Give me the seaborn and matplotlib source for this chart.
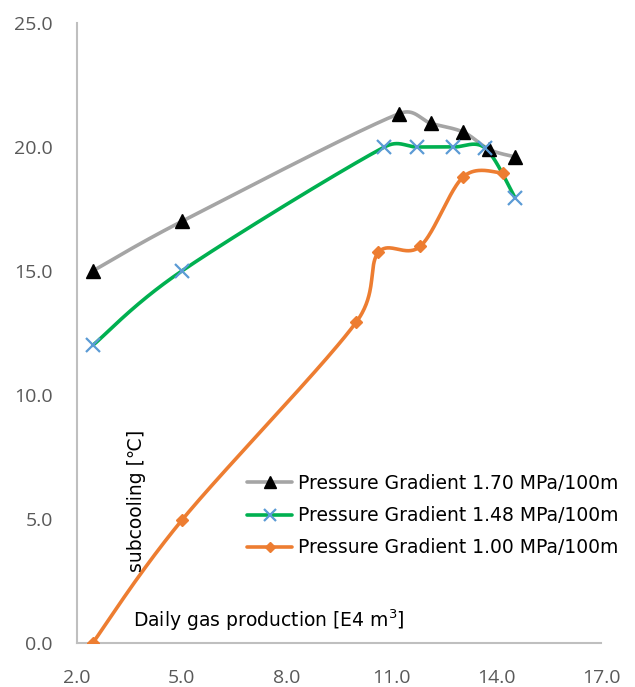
import numpy as np
import pandas as pd
import matplotlib
matplotlib.use("Agg")
import matplotlib.pyplot as plt
from matplotlib.lines import Line2D
import seaborn as sns

# Daily gas production [E4 m3] and subcooling [deg C] for each pressure gradient
x_170 = [2.45, 5.0, 11.23, 12.14, 13.06, 13.8, 14.54]
y_170 = [15.0, 17.0, 21.35, 20.95, 20.6, 19.9, 19.6]

x_148 = [2.45, 5.0, 10.8, 11.74, 12.77, 13.69, 14.54]
y_148 = [12.0, 15.0, 20.0, 20.0, 20.0, 19.95, 17.95]

x_100 = [2.45, 5.0, 10.0, 10.63, 11.83, 13.06, 14.2]
y_100 = [0.0, 4.95, 12.95, 15.75, 16.0, 18.8, 18.95]

labels = ["Pressure Gradient 1.70 MPa/100m",
          "Pressure Gradient 1.48 MPa/100m",
          "Pressure Gradient 1.00 MPa/100m"]
x_ticks = [2.0, 5.0, 8.0, 11.0, 14.0, 17.0]
y_ticks = [0.0, 5.0, 10.0, 15.0, 20.0, 25.0]

X_LIM = (2, 17)
Y_LIM = (0, 25)


def smooth(xs, ys, sx=35.0, sy=24.8, n=60):
    """Spreadsheet-style smoothed line: cubic Bezier segments whose control
    points sit 1/6 of the neighbour chord away, capped at half the segment."""
    p = np.column_stack([np.asarray(xs) * sx, np.asarray(ys) * sy]).astype(float)
    p_ext = np.vstack([p[0], p, p[-1]])
    d = lambda a, b: np.hypot(*(b - a))
    t = np.linspace(0, 1, n)[:, None]
    out = []
    for i in range(len(p) - 1):
        p0, p1, p2, p3 = p_ext[i], p_ext[i + 1], p_ext[i + 2], p_ext[i + 3]
        d12, d02, d13 = d(p1, p2), d(p0, p2), d(p1, p3)
        f1 = 1 / 6 if d02 / 6 < d12 / 2 else d12 / (2 * d02)
        f2 = 1 / 6 if d13 / 6 < d12 / 2 else d12 / (2 * d13)
        c1 = p1 + (p2 - p0) * f1
        c2 = p2 - (p3 - p1) * f2
        seg = ((1 - t) ** 3) * p1 + 3 * ((1 - t) ** 2) * t * c1 \
            + 3 * (1 - t) * t ** 2 * c2 + t ** 3 * p2
        out.append(seg if i == 0 else seg[1:])
    s = np.vstack(out)
    return s[:, 0] / sx, s[:, 1] / sy


sns.set_theme(style="white")
plt.rcParams["font.family"] = ["Open Sans", "DejaVu Sans"]

fig = plt.figure(figsize=(6.35, 6.87), dpi=100)
ax = fig.add_axes([77 / 635, 1 - 643 / 687, 524 / 635, 620 / 687])

series = [
    (x_170, y_170, "#A5A5A5", "^", "black", "black", 10, 1.0),
    (x_148, y_148, "#00B050", "x", "#5B9BD5", "#5B9BD5", 10, 1.6),
    (x_100, y_100, "#ED7D31", "D", "#ED7D31", "#ED7D31", 6.5, 1.0),
]

handles = []
for (xs, ys, lc, mk, mfc, mec, ms, mew), lab in zip(series, labels):
    sx, sy = smooth(xs, ys)
    curve = pd.DataFrame({"x": sx, "y": sy})
    sns.lineplot(data=curve, x="x", y="y", sort=False, estimator=None,
                 color=lc, linewidth=2.6, ax=ax, zorder=2)
    pts = pd.DataFrame({"x": xs, "y": ys})
    ax.plot(pts["x"], pts["y"], linestyle="none", marker=mk, markersize=ms,
            markerfacecolor=mfc, markeredgecolor=mec, markeredgewidth=mew,
            zorder=3)
    handles.append(Line2D([0], [0], color=lc, linewidth=2.6, marker=mk,
                          markersize=ms * 0.8, markerfacecolor=mfc,
                          markeredgecolor=mec, markeredgewidth=mew, label=lab))

ax.set_xlim(*X_LIM)
ax.set_ylim(*Y_LIM)
ax.set_xticks(x_ticks)
ax.set_yticks(y_ticks)
ax.set_xticklabels([f"{v:.1f}" for v in x_ticks])
ax.set_yticklabels([f"{v:.1f}" for v in y_ticks])
ax.set_xlabel("")
ax.set_ylabel("")

for side in ["top", "right"]:
    ax.spines[side].set_visible(False)
for side in ["left", "bottom"]:
    ax.spines[side].set_color("#BFBFBF")
    ax.spines[side].set_linewidth(1.5)

ax.tick_params(axis="both", direction="in", length=5, width=1.2,
               color="#BFBFBF", labelcolor="#595959", labelsize=14)
ax.tick_params(axis="x", pad=19)
ax.tick_params(axis="y", pad=17.5)

label_font = ["DejaVu Sans"]
ax.text(0.1145, 0.23, "subcooling [℃]", transform=ax.transAxes,
        rotation=90, ha="center", va="center", fontsize=13.5, color="black",
        family=label_font)
ax.text(0.107, 0.037, "Daily gas production [E4 m$^3$]", transform=ax.transAxes,
        ha="left", va="center", fontsize=13.5, color="black",
        family=label_font)

leg = ax.legend(handles=handles, loc="upper left",
                bbox_to_anchor=(247 / 635, 1 - 474 / 687),
                bbox_transform=fig.transFigure,
                frameon=False, prop={"family": label_font, "size": 13.5},
                handlelength=2.4, handletextpad=0.3, labelspacing=0.7,
                borderpad=0.0, borderaxespad=0.0)
for t in leg.get_texts():
    t.set_color("black")

fig.savefig("out.png", dpi=100)
